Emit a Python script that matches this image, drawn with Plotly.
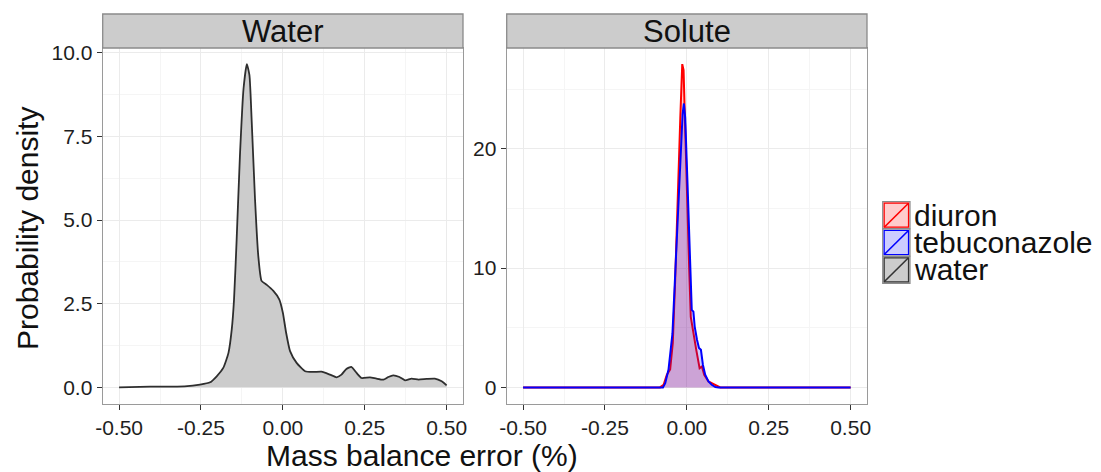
import plotly.graph_objects as go

# ---------------- data ----------------
water_x = [-0.5, -0.405, -0.30, -0.253, -0.222, -0.202, -0.182, -0.166, -0.156, -0.149,
           -0.141, -0.131, -0.12, -0.11, -0.102, -0.095, -0.085, -0.075, -0.065, -0.049,
           -0.029, -0.011, 0.0, 0.01, 0.022, 0.042, 0.068, 0.093, 0.118, 0.144, 0.164,
           0.179, 0.194, 0.209, 0.225, 0.24, 0.266, 0.286, 0.307, 0.322, 0.337, 0.356,
           0.373, 0.393, 0.414, 0.439, 0.464, 0.485, 0.5]
water_y = [0.0, 0.02, 0.03, 0.08, 0.15, 0.33, 0.58, 1.03, 1.73, 2.63,
           4.43, 6.93, 8.93, 9.66, 9.33, 7.93, 5.63, 3.93, 3.18, 3.06,
           2.88, 2.63, 2.23, 1.63, 1.08, 0.73, 0.48, 0.46, 0.47, 0.38, 0.30,
           0.38, 0.55, 0.61, 0.43, 0.28, 0.30, 0.26, 0.23, 0.31, 0.36, 0.31,
           0.21, 0.26, 0.23, 0.25, 0.26, 0.18, 0.06]

diuron_x = [-0.5, -0.082, -0.071, -0.061, -0.051, -0.043, -0.036, -0.029, -0.020, -0.014,
            -0.010, -0.006, 0.0, 0.007, 0.012, 0.020, 0.029, 0.039, 0.046, 0.053,
            0.066, 0.082, 0.094, 0.102, 0.5]
diuron_y = [0.0, 0.0, 0.22, 1.06, 1.5, 3.7, 8.7, 15.7, 22.6, 27.1,
            26.6, 22.6, 15.7, 10.1, 5.9, 4.5, 3.1, 1.6, 1.75, 1.06,
            0.5, 0.28, 0.08, 0.0, 0.0]

tebu_x = [-0.5, -0.073, -0.066, -0.056, -0.044, -0.034, -0.022, -0.013, -0.009, -0.005,
          0.002, 0.010, 0.015, 0.020, 0.024, 0.031, 0.037, 0.043, 0.049, 0.056,
          0.066, 0.076, 0.087, 0.097, 0.5]
tebu_y = [0.0, 0.0, 0.36, 1.5, 4.5, 10.1, 17.1, 22.9, 23.8, 22.6,
          17.1, 11.5, 6.5, 6.35, 5.1, 4.0, 3.3, 3.15, 1.9, 1.06,
          0.5, 0.22, 0.03, 0.0, 0.0]

x_ticks = [-0.5, -0.25, 0.0, 0.25, 0.5]
x_ticktext = ["-0.50", "-0.25", "0.00", "0.25", "0.50"]
water_yticks = [0, 2.5, 5, 7.5, 10]
water_yticktext = ["0.0", "2.5", "5.0", "7.5", "10.0"]
solute_yticks = [0, 10, 20]
solute_yticktext = ["0", "10", "20"]
panel_titles = ["Water", "Solute"]
legend_labels = ["diuron", "tebuconazole", "water"]

# ---------------- figure ----------------
OFF = 8  # default page body margin
W, H = 1101 - OFF, 472 - OFF
FONT = "Liberation Sans, Arial, sans-serif"

fig = go.Figure()
fig.add_trace(go.Scatter(x=water_x, y=water_y, mode="lines", fill="tozeroy",
                         fillcolor="rgb(204,204,204)",
                         line=dict(color="#2e2e2e", width=1.8, shape="spline", smoothing=0.5),
                         xaxis="x", yaxis="y", showlegend=False, hoverinfo="skip"))
fig.add_trace(go.Scatter(x=diuron_x, y=diuron_y, mode="lines", fill="tozeroy",
                         fillcolor="rgba(255,0,0,0.2)",
                         line=dict(color="rgb(255,0,0)", width=2),
                         xaxis="x2", yaxis="y2", showlegend=False, hoverinfo="skip"))
fig.add_trace(go.Scatter(x=tebu_x, y=tebu_y, mode="lines", fill="tozeroy",
                         fillcolor="rgba(0,0,255,0.2)",
                         line=dict(color="rgb(0,0,255)", width=2),
                         xaxis="x2", yaxis="y2", showlegend=False, hoverinfo="skip"))


def px_x(p):
    return (p - OFF) / W


def px_y(p):
    return 1 - (p - OFF) / H


dom1 = [px_x(102.7), px_x(463.0)]
dom2 = [px_x(506.7), px_x(867.0)]
ydom = [px_y(403.5), px_y(48.0)]

axis_common = dict(showline=True, mirror=True, linecolor="#9a9a9a", linewidth=1.3,
                   gridcolor="#ebebeb", gridwidth=1, zeroline=False, automargin=False,
                   ticks="outside", ticklen=5, tickcolor="#333333", tickwidth=1,
                   tickfont=dict(family=FONT, size=21, color="#1e1e1e"),
                   minor=dict(showgrid=True, gridcolor="#f5f5f5", gridwidth=1))

fig.update_layout(
    width=W, height=H, margin=dict(l=0, r=0, t=0, b=0, pad=0, autoexpand=False),
    paper_bgcolor="white", plot_bgcolor="white", showlegend=False,
    xaxis=dict(domain=dom1, range=[-0.55, 0.55], tickvals=x_ticks, ticktext=x_ticktext,
               anchor="y", **axis_common),
    yaxis=dict(domain=ydom, range=[-0.483, 10.14], tickvals=water_yticks,
               ticktext=water_yticktext, anchor="x", **axis_common),
    xaxis2=dict(domain=dom2, range=[-0.55, 0.55], tickvals=x_ticks, ticktext=x_ticktext,
                anchor="y2", **axis_common),
    yaxis2=dict(domain=ydom, range=[-1.35, 28.45], tickvals=solute_yticks,
                ticktext=solute_yticktext, anchor="x2", **axis_common),
)
fig.update_xaxes(minor=dict(tickvals=[-0.375, -0.125, 0.125, 0.375]))
fig.update_layout(yaxis_minor=dict(tickvals=[1.25, 3.75, 6.25, 8.75]),
                  yaxis2_minor=dict(tickvals=[5, 15, 25]))

shapes = []
annotations = []
# strips
for dom, title in zip([dom1, dom2], panel_titles):
    shapes.append(dict(type="rect", xref="paper", yref="paper",
                       x0=dom[0], x1=dom[1], y0=px_y(48.0), y1=px_y(14.0),
                       fillcolor="#cccccc", line=dict(color="#8a8a8a", width=1.3)))
    annotations.append(dict(text=title, xref="paper", yref="paper",
                            x=(dom[0] + dom[1]) / 2, y=px_y(31.5),
                            xanchor="center", yanchor="middle", showarrow=False,
                            font=dict(family=FONT, size=31, color="#111111")))

# axis titles
annotations.append(dict(text="Mass balance error (%)", xref="paper", yref="paper",
                        x=px_x(422), y=px_y(455), xanchor="center", yanchor="middle",
                        showarrow=False, font=dict(family=FONT, size=30, color="#111111")))
annotations.append(dict(text="Probability density", xref="paper", yref="paper",
                        x=px_x(28), y=px_y(229), xanchor="center", yanchor="middle",
                        textangle=-90, showarrow=False,
                        font=dict(family=FONT, size=30, color="#111111")))

# legend (drawn manually to reproduce the ggplot keys)
key_fill = ["rgba(255,0,0,0.2)", "rgba(0,0,255,0.2)", "rgb(204,204,204)"]
key_line = ["rgb(255,0,0)", "rgb(0,0,255)", "#333333"]
key_tops = [201.7, 229.0, 256.3]
key_h = 27.0
for lab, fc, lc, top in zip(legend_labels, key_fill, key_line, key_tops):
    x0, x1 = 882.7, 910.0
    y0, y1 = top, top + key_h
    shapes.append(dict(type="rect", xref="paper", yref="paper",
                       x0=px_x(x0), x1=px_x(x1), y0=px_y(y1), y1=px_y(y0),
                       fillcolor=fc, line=dict(color="#8a8a8a", width=1.2)))
    shapes.append(dict(type="rect", xref="paper", yref="paper",
                       x0=px_x(x0 + 1.5), x1=px_x(x1 - 1.5), y0=px_y(y1 - 1.5), y1=px_y(y0 + 1.5),
                       fillcolor="rgba(0,0,0,0)", line=dict(color=lc, width=1.2)))
    shapes.append(dict(type="line", xref="paper", yref="paper",
                       x0=px_x(x0 + 1.5), x1=px_x(x1 - 1.5), y0=px_y(y1 - 1.5), y1=px_y(y0 + 1.5),
                       line=dict(color=lc, width=1.6)))
    annotations.append(dict(text=lab, xref="paper", yref="paper",
                            x=px_x(912.0), y=px_y(top + key_h / 2), xanchor="left",
                            yanchor="middle", showarrow=False,
                            font=dict(family=FONT, size=30, color="#111111")))

fig.update_layout(shapes=shapes, annotations=annotations)
fig.write_html("out.html")
